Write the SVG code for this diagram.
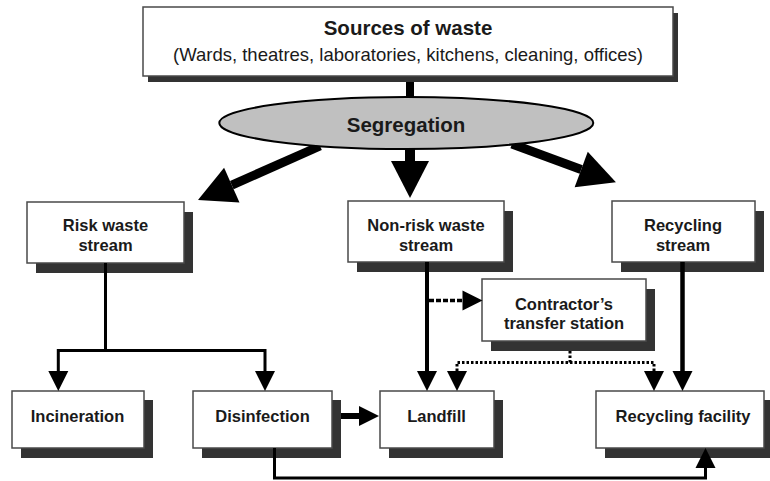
<svg xmlns="http://www.w3.org/2000/svg" width="770" height="481" viewBox="0 0 770 481">
  <style>
    .box { fill: #ffffff; stroke: #4a4a4a; stroke-width: 1.5; }
    .sh { fill: #333333; }
    .t { font-family: "Liberation Sans", Arial, sans-serif; font-weight: bold; font-size: 16.5px; fill: #1a1a1a; text-anchor: middle; }
    .sub { font-family: "Liberation Sans", Arial, sans-serif; font-size: 18.5px; fill: #1a1a1a; text-anchor: middle; }
    .big { font-size: 20.5px; }
    .ln { fill: none; stroke: #000; stroke-linejoin: miter; }
  </style>
  <defs>
    <marker id="ah" markerUnits="userSpaceOnUse" markerWidth="20" markerHeight="20" viewBox="0 -10 20 20" refX="0" refY="0" orient="auto" overflow="visible">
      <path d="M0,-10 L20,0 L0,10 Z" fill="#000"/>
    </marker>
    <marker id="ahBig" markerUnits="userSpaceOnUse" markerWidth="38" markerHeight="38" viewBox="0 -19 38 38" refX="0" refY="0" orient="auto" overflow="visible">
      <path d="M0,-19 L37,0 L0,19 Z" fill="#000"/>
    </marker>
  </defs>

  <g id="sources">
    <rect class="sh" x="148" y="13" width="530" height="69"/>
    <rect class="box" x="143" y="7" width="530" height="69"/>
    <text class="t big" x="408" y="35">Sources of waste</text>
    <text class="sub" x="408" y="61">(Wards, theatres, laboratories, kitchens, cleaning, offices)</text>
  </g>

  <g id="risk">
    <rect class="sh" x="36" y="212" width="157" height="61"/>
    <rect class="box" x="27" y="202" width="157" height="61"/>
    <text class="t" x="105.5" y="230.5">Risk waste</text>
    <text class="t" x="105.5" y="250.5">stream</text>
  </g>

  <g id="nonrisk">
    <rect class="sh" x="357" y="211" width="156" height="61"/>
    <rect class="box" x="348" y="201" width="156" height="61"/>
    <text class="t" x="426" y="230.5">Non-risk waste</text>
    <text class="t" x="426" y="250.5">stream</text>
  </g>

  <g id="recstream">
    <rect class="sh" x="621" y="211" width="143" height="61"/>
    <rect class="box" x="612" y="201" width="143" height="61"/>
    <text class="t" x="683" y="230.5">Recycling</text>
    <text class="t" x="683" y="250.5">stream</text>
  </g>

  <g id="contractor">
    <rect class="sh" x="491" y="289" width="164" height="62"/>
    <rect class="box" x="482" y="279" width="164" height="62"/>
    <text class="t" x="564" y="310">Contractor’s</text>
    <text class="t" x="564" y="328.5">transfer station</text>
  </g>

  <g id="incineration">
    <rect class="sh" x="21" y="400" width="132" height="58"/>
    <rect class="box" x="12" y="391" width="132" height="57"/>
    <text class="t" x="77.5" y="422">Incineration</text>
  </g>

  <g id="disinfection">
    <rect class="sh" x="202" y="400" width="139" height="58"/>
    <rect class="box" x="193" y="391" width="139" height="57"/>
    <text class="t" x="262.5" y="422">Disinfection</text>
  </g>

  <g id="landfill">
    <rect class="sh" x="389" y="400" width="114" height="58"/>
    <rect class="box" x="380" y="391" width="114" height="57"/>
    <text class="t" x="436.5" y="422">Landfill</text>
  </g>

  <g id="recfacility">
    <rect class="sh" x="605" y="400" width="170" height="58"/>
    <rect class="box" x="596" y="391" width="168" height="57"/>
    <text class="t" x="683" y="422">Recycling facility</text>
  </g>

  <g id="connectors">
    <path class="ln" d="M410,82 V105" stroke-width="8"/>
    <path class="ln" d="M410,140 V161" stroke-width="10" marker-end="url(#ahBig)"/>
    <path class="ln" d="M320,146 L231.8,185.1" stroke-width="9" marker-end="url(#ahBig)"/>
    <path class="ln" d="M512,144 L581.2,169.5" stroke-width="9" marker-end="url(#ahBig)"/>
    <path class="ln" d="M105.5,263 V350.5 H58.3 V371" stroke-width="3" marker-end="url(#ah)"/>
    <path class="ln" d="M105.5,350.5 H265 V371" stroke-width="3" marker-end="url(#ah)"/>
    <path class="ln" d="M427,262 V371" stroke-width="4" marker-end="url(#ah)"/>
    <path class="ln" d="M429,300.5 H462.5" stroke-width="3.5" stroke-dasharray="5,2" marker-end="url(#ah)"/>
    <path class="ln" d="M570,351 V362.5 H457 V371" stroke-width="3" stroke-dasharray="2.5,2" marker-end="url(#ah)"/>
    <path class="ln" d="M570,362.5 H654 V371" stroke-width="3" stroke-dasharray="2.5,2" marker-end="url(#ah)"/>
    <path class="ln" d="M682.5,262 V371" stroke-width="4.5" marker-end="url(#ah)"/>
    <path class="ln" d="M341,416 H359" stroke-width="6" marker-end="url(#ah)"/>
    <path class="ln" d="M274.5,448 V478 H705.5 V468" stroke-width="3" marker-end="url(#ah)"/>
  </g>

  <g id="segregation">
    <ellipse cx="406.3" cy="123" rx="187" ry="26" fill="#c0c0c0" stroke="#000" stroke-width="2"/>
    <text class="t big" x="406" y="131.5">Segregation</text>
  </g>
</svg>
